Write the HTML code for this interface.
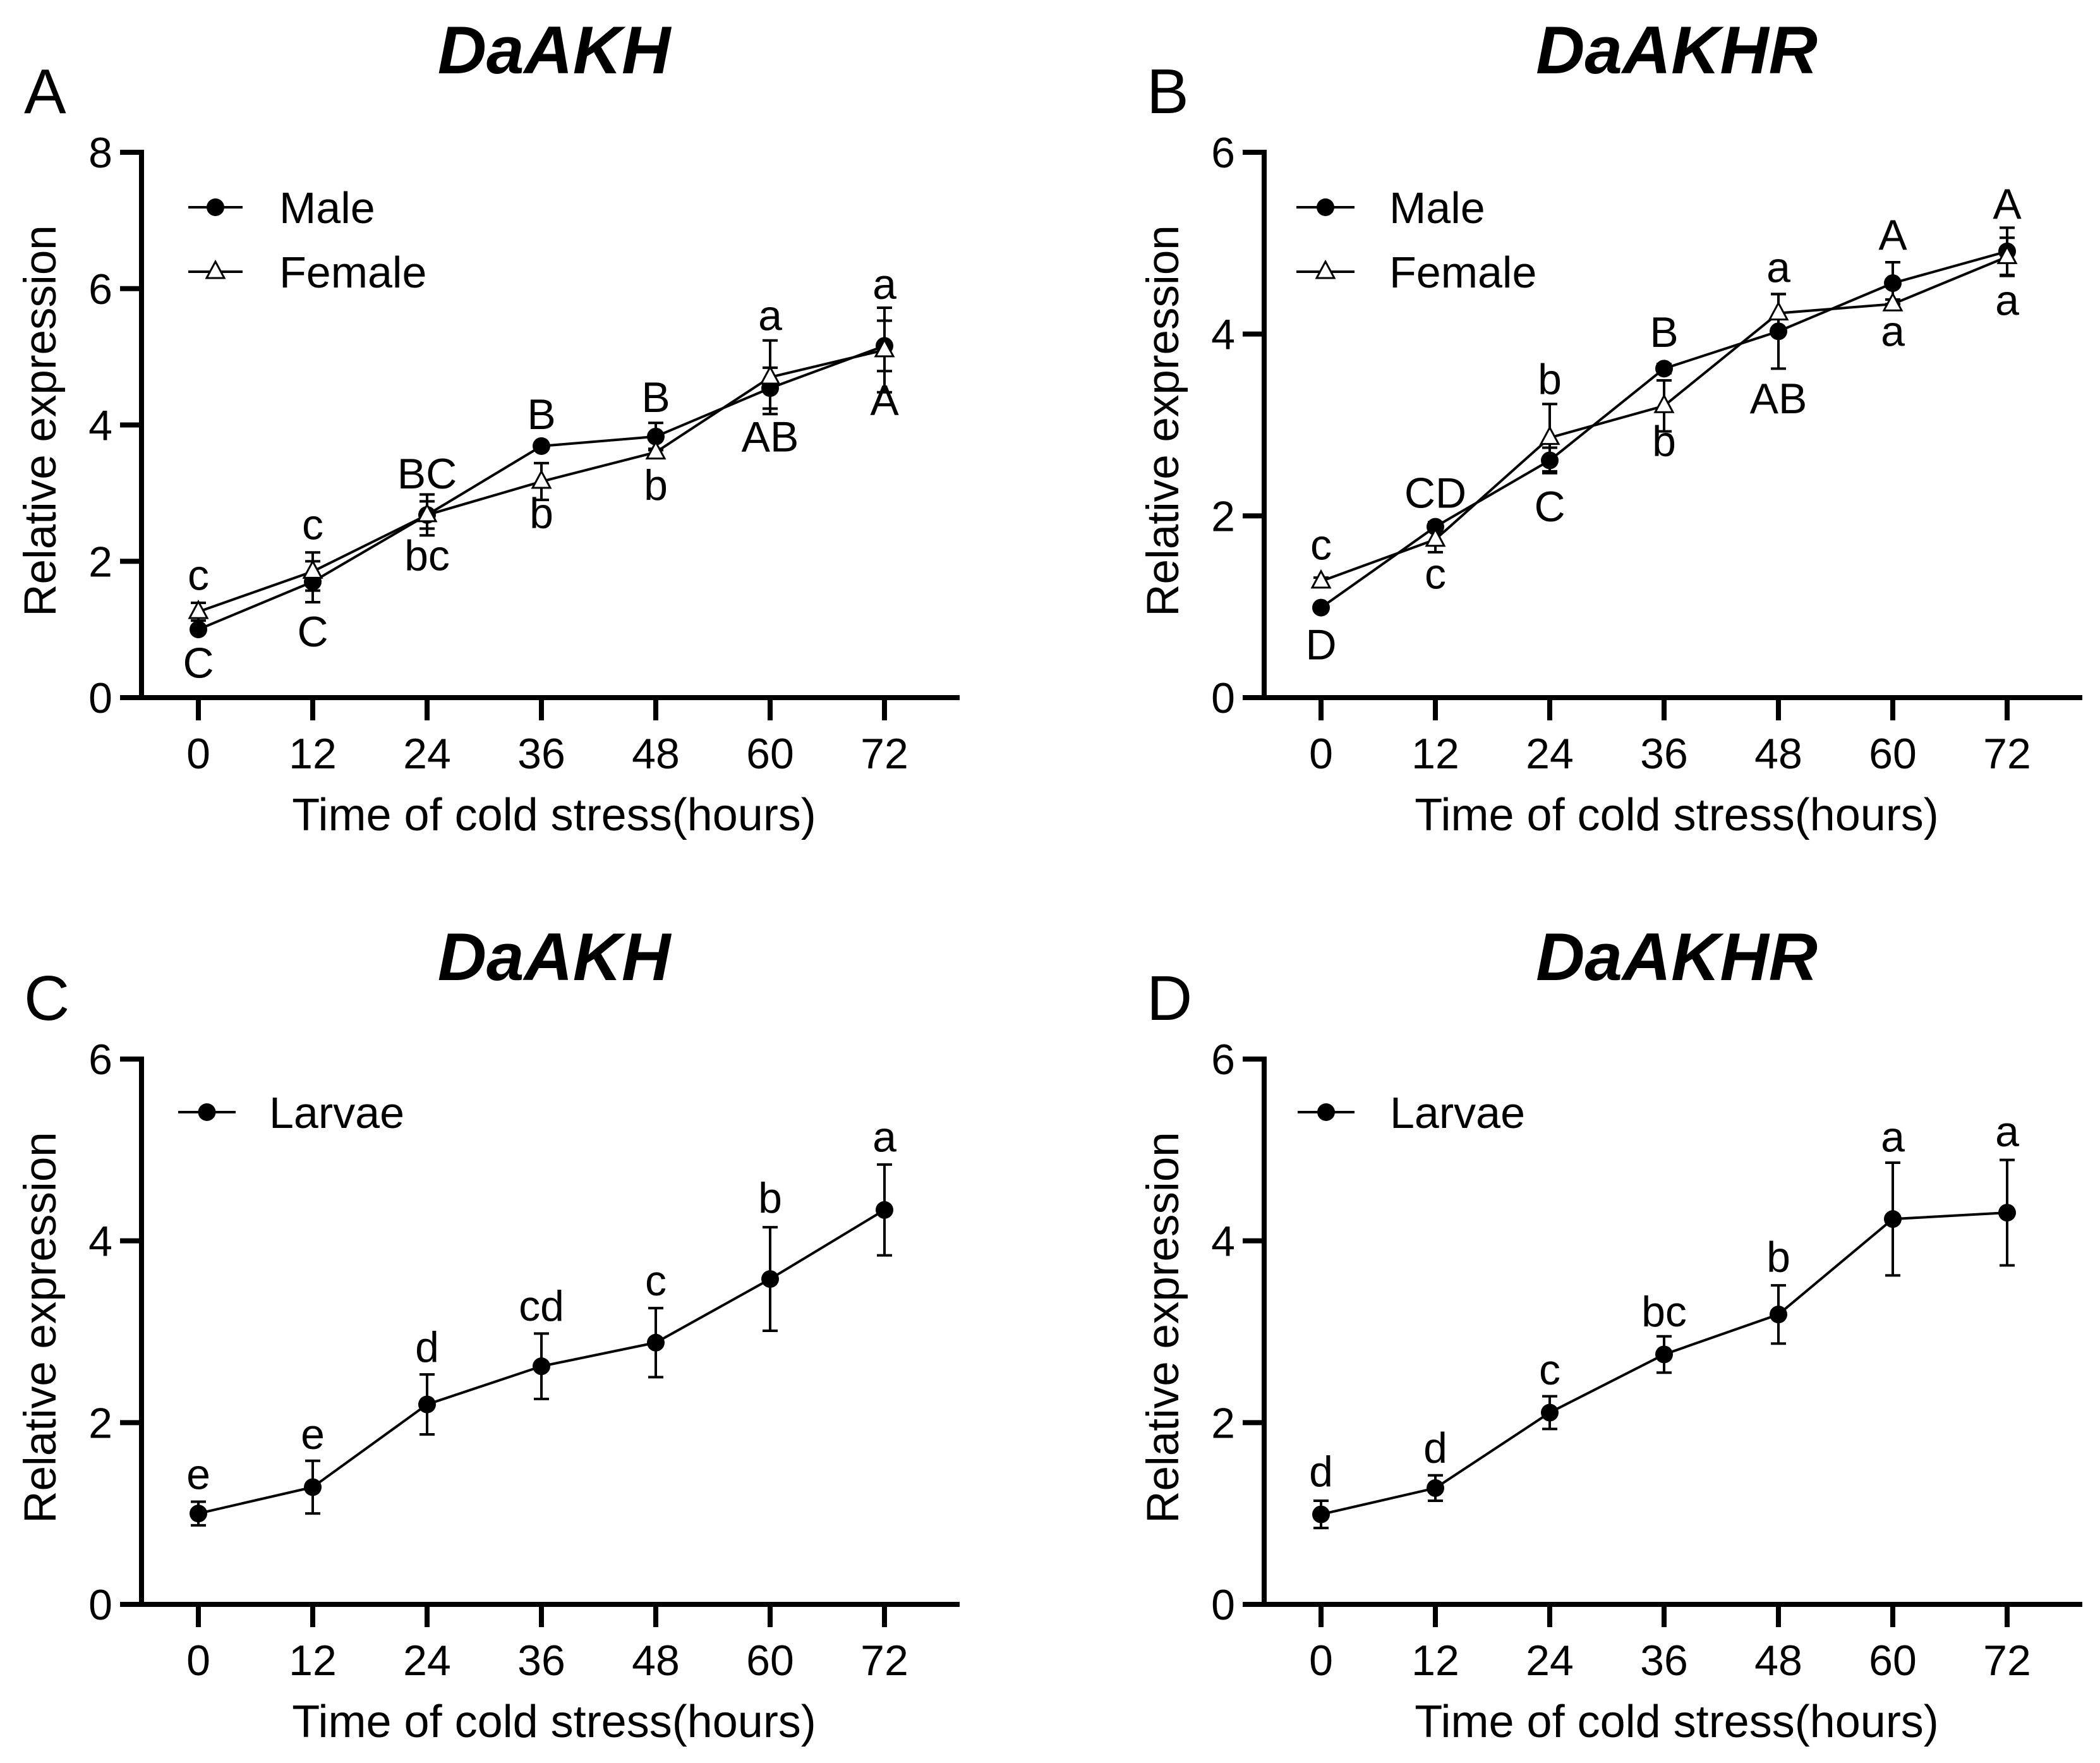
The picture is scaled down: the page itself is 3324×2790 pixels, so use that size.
<!DOCTYPE html>
<html><head><meta charset="utf-8"><style>
html,body{margin:0;padding:0;background:#fff;}
svg{display:block;font-family:"Liberation Sans",Arial,sans-serif;}
</style></head><body>
<svg id="fig" width="3324" height="2790" viewBox="0 0 3324 2790" xmlns="http://www.w3.org/2000/svg"></svg>
<script>
const hours = [0, 12, 24, 36, 48, 60, 72];
const yTicksA = [0, 2, 4, 6, 8];
const yTicks6 = [0, 2, 4, 6];
// Panel A
const aMale = [1.0, 1.7, 2.68, 3.69, 3.83, 4.54, 5.16];
const aMaleErr = [0.05, 0.3, 0.2, 0.05, 0.2, 0.3, 0.37];
const aFemale = [1.26, 1.85, 2.68, 3.17, 3.6, 4.7, 5.1];
const aFemaleErr = [0.13, 0.28, 0.3, 0.27, 0.05, 0.54, 0.62];
const aMaleLbl = ["C", "C", "BC", "B", "B", "AB", "A"];
const aMaleLblY = [0.29, 0.75, 3.07, 3.94, 4.19, 3.61, 4.15];
const aFemaleLbl = ["c", "c", "bc", "b", "b", "a", "a"];
const aFemaleLblY = [1.58, 2.32, 1.87, 2.49, 2.9, 5.39, 5.85];
// Panel B
const bMale = [0.99, 1.88, 2.61, 3.62, 4.03, 4.56, 4.91];
const bMaleErr = [0.03, 0.05, 0.14, 0.05, 0.41, 0.23, 0.26];
const bFemale = [1.28, 1.74, 2.86, 3.21, 4.23, 4.33, 4.85];
const bFemaleErr = [0.04, 0.14, 0.37, 0.28, 0.21, 0.05, 0.21];
const bMaleLbl = ["D", "CD", "C", "B", "AB", "A", "A"];
const bMaleLblY = [0.42, 2.09, 1.94, 3.86, 3.13, 4.93, 5.27];
const bFemaleLbl = ["c", "c", "b", "b", "a", "a", "a"];
const bFemaleLblY = [1.52, 1.2, 3.34, 2.66, 4.57, 3.87, 4.21];
// Panel C
const cLarvae = [1.0, 1.29, 2.2, 2.62, 2.88, 3.58, 4.34];
const cLarvaeErr = [0.13, 0.29, 0.33, 0.36, 0.38, 0.57, 0.5];
const cLbl = ["e", "e", "d", "cd", "c", "b", "a"];
const cLblY = [1.27, 1.71, 2.67, 3.12, 3.4, 4.31, 4.98];
// Panel D
const dLarvae = [0.99, 1.28, 2.11, 2.75, 3.19, 4.24, 4.31];
const dLarvaeErr = [0.15, 0.14, 0.18, 0.2, 0.32, 0.62, 0.58];
const dLbl = ["d", "d", "c", "bc", "b", "a", "a"];
const dLblY = [1.3, 1.56, 2.42, 3.06, 3.66, 4.98, 5.04];

const NS = "http://www.w3.org/2000/svg";
const svg = document.getElementById('fig');
function mk(tag, attrs, parent) {
  const e = document.createElementNS(NS, tag);
  for (const k in attrs) e.setAttribute(k, attrs[k]);
  (parent || svg).appendChild(e);
  return e;
}

function panel(cfg) {
  const g = mk('g', {});
  
  
  const ox = cfg.ox, oy = cfg.oy;
  const axisX = 224 + ox, yTop = 241 + oy, y0 = 1104 + oy;
  const ymax = cfg.ticks[cfg.ticks.length - 1];
  const yS = v => y0 - (v / ymax) * (y0 - yTop);
  const xS = h => axisX + 90 + (h / 12) * 181;
  const rightEnd = axisX + 1295;

  let t = mk('text', {x: 38 + ox, y: 179 + oy, 'font-size': 100}, g);
  t.textContent = cfg.letter;
  
  
  t = mk('text', {x: 877 + ox, y: 116 + oy, 'font-size': 107, 'font-weight': 'bold', 'font-style': 'italic', 'text-anchor': 'middle'}, g);
  t.textContent = cfg.title;
  
  

  let a = mk('path', {d: `M${axisX},${yTop - 4} L${axisX},${y0} L${rightEnd},${y0}`, fill: 'none', stroke: '#000', 'stroke-width': 8}, g);
  
  
  cfg.ticks.forEach(v => {
    const y = yS(v);
    let l = mk('line', {x1: axisX - 34, x2: axisX, y1: y, y2: y, stroke: '#000', 'stroke-width': 8}, g);
    
    
    let tx = mk('text', {x: axisX - 46, y: y + 24, 'font-size': 68, 'text-anchor': 'end'}, g);
    tx.textContent = v;
    
    
  });
  hours.forEach(h => {
    const x = xS(h);
    let l = mk('line', {x1: x, x2: x, y1: y0, y2: y0 + 36, stroke: '#000', 'stroke-width': 8}, g);
    
    
    let tx = mk('text', {x: x, y: 1216 + oy, 'font-size': 68, 'text-anchor': 'middle'}, g);
    tx.textContent = h;
    
    
  });
  t = mk('text', {x: 877 + ox, y: 1314 + oy, 'font-size': 72, 'text-anchor': 'middle'}, g);
  t.textContent = 'Time of cold stress(hours)';
  
  
  t = mk('text', {x: 0, y: 0, 'font-size': 71, 'text-anchor': 'middle', transform: `translate(${88 + ox},${666 + oy}) rotate(-90)`}, g);
  t.textContent = 'Relative expression';
  
  

  cfg.series.forEach(s => {
    const sg = mk('g', {}, g);
    
    
    const pts = s.vals.map((v, i) => xS(hours[i]) + ',' + yS(v)).join(' ');
    let pl = mk('polyline', {points: pts, fill: 'none', stroke: '#000', 'stroke-width': 4}, sg);
    
    
    s.vals.forEach((v, i) => {
      const x = xS(hours[i]);
      const yt = yS(v + s.err[i]), yb = yS(v - s.err[i]);
      let eb = mk('path', {d: `M${x},${yt} L${x},${yb} M${x - 12},${yt} L${x + 12},${yt} M${x - 12},${yb} L${x + 12},${yb}`, stroke: '#000', 'stroke-width': 4, fill: 'none'}, sg);
      
      
    });
    s.vals.forEach((v, i) => {
      const x = xS(hours[i]), y = yS(v);
      let m;
      if (s.tri) m = mk('path', {d: `M${x},${y - 16} L${x + 14},${y + 10} L${x - 14},${y + 10} Z`, fill: '#fff', stroke: '#000', 'stroke-width': 3}, sg);
      else m = mk('circle', {cx: x, cy: y, r: 14, fill: '#000'}, sg);
      
      
    });
    s.lbl.forEach((txt, i) => {
      let tx = mk('text', {x: xS(hours[i]), y: yS(s.lblY[i]), 'font-size': 68, 'text-anchor': 'middle'}, g);
      tx.textContent = txt;
      
      
    });
  });

  cfg.series.forEach((s, k) => {
    const ly = (cfg.series.length > 1 ? 328 + k * 102 : 325) + oy;
    const lx1 = axisX + cfg.lg[0], lx2 = axisX + cfg.lg[1], mx = (lx1 + lx2) / 2;
    const lgG = mk('g', {}, g);
    
    
    mk('line', {x1: lx1, x2: lx2, y1: ly, y2: ly, stroke: '#000', 'stroke-width': 4}, lgG);
    if (s.tri) mk('path', {d: `M${mx},${ly - 16} L${mx + 14},${ly + 10} L${mx - 14},${ly + 10} Z`, fill: '#fff', stroke: '#000', 'stroke-width': 3}, lgG);
    else mk('circle', {cx: mx, cy: ly, r: 14, fill: '#000'}, lgG);
    let tx = mk('text', {x: axisX + cfg.lg[2], y: ly + 25, 'font-size': 70}, lgG);
    tx.textContent = s.name;
  });
}

panel({id: 'a', letter: 'A', title: 'DaAKH', ox: 0, oy: 0, ticks: yTicksA, lg: [74, 160, 218],
  series: [
    {name: 'Male', vals: aMale, err: aMaleErr, lbl: aMaleLbl, lblY: aMaleLblY, tri: false},
    {name: 'Female', vals: aFemale, err: aFemaleErr, lbl: aFemaleLbl, lblY: aFemaleLblY, tri: true}]});
panel({id: 'b', letter: 'B', title: 'DaAKHR', ox: 1777, oy: 0, ticks: yTicks6, lg: [51, 143, 198],
  series: [
    {name: 'Male', vals: bMale, err: bMaleErr, lbl: bMaleLbl, lblY: bMaleLblY, tri: false},
    {name: 'Female', vals: bFemale, err: bFemaleErr, lbl: bFemaleLbl, lblY: bFemaleLblY, tri: true}]});
panel({id: 'c', letter: 'C', title: 'DaAKH', ox: 0, oy: 1435, ticks: yTicks6, lg: [58, 149, 202],
  series: [{name: 'Larvae', vals: cLarvae, err: cLarvaeErr, lbl: cLbl, lblY: cLblY, tri: false}]});
panel({id: 'd', letter: 'D', title: 'DaAKHR', ox: 1777, oy: 1435, ticks: yTicks6, lg: [53, 143, 199],
  series: [{name: 'Larvae', vals: dLarvae, err: dLarvaeErr, lbl: dLbl, lblY: dLblY, tri: false}]});
</script>
</body></html>
